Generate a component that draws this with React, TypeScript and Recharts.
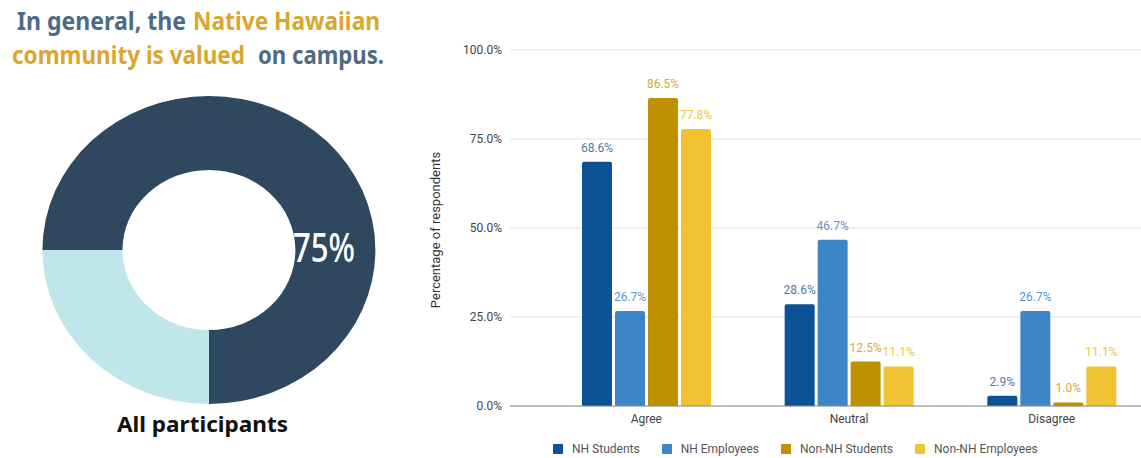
import {
  Bar,
  BarChart,
  CartesianGrid,
  Cell,
  LabelList,
  Legend,
  Pie,
  PieChart,
  XAxis,
  YAxis,
} from "recharts";

const categories = ["Agree", "Neutral", "Disagree"];
const nhStudents = [68.6, 28.6, 2.9];
const nhEmployees = [26.7, 46.7, 26.7];
const nonNhStudents = [86.5, 12.5, 1.0];
const nonNhEmployees = [77.8, 11.1, 11.1];
const yTicks = [0, 25, 50, 75, 100];

const donutNames = ["Valued", "Other"];
const donutValues = [75, 25];
const donutColors = ["#2f475f", "#bfe6ea"];

const series = [
  { key: "nhStudents", name: "NH Students", fill: "#0b5394", label: "#4f79a8" },
  { key: "nhEmployees", name: "NH Employees", fill: "#3d85c6", label: "#5b94cf" },
  { key: "nonNhStudents", name: "Non-NH Students", fill: "#bf9000", label: "#d2aa3c" },
  { key: "nonNhEmployees", name: "Non-NH Employees", fill: "#f1c232", label: "#efc43e" },
];

const barData = categories.map((name, i) => ({
  name,
  nhStudents: nhStudents[i],
  nhEmployees: nhEmployees[i],
  nonNhStudents: nonNhStudents[i],
  nonNhEmployees: nonNhEmployees[i],
}));

const donutData = donutNames.map((name, i) => ({ name, value: donutValues[i] }));

const chartFont = "Roboto, 'Liberation Sans', Arial, sans-serif";
const titleFont = "'Noto Sans', 'Open Sans', sans-serif";
const slate = "#4f6a84";
const gold = "#d9a72d";

// legend keeps the series order (recharts 3 sorts payload by default)
function renderLegend() {
  return (
    <div
      style={{
        display: "flex",
        alignItems: "center",
        height: 22,
        paddingTop: 4,
        boxSizing: "border-box",
        fontFamily: chartFont,
        fontSize: 12,
        color: "#555",
      }}
    >
      {series.map((s) => (
        <span key={s.key} style={{ display: "flex", alignItems: "center", marginRight: 22 }}>
          <span
            style={{
              width: 10,
              height: 10,
              background: s.fill,
              borderRadius: 1,
              marginRight: 9,
              display: "inline-block",
            }}
          />
          {s.name}
        </span>
      ))}
    </div>
  );
}

export default function App() {
  return (
    <div style={{ position: "relative", width: 1141, height: 458, overflow: "hidden", background: "#fff" }}>
      <style>{`body{margin:0}`}</style>

      <div
        style={{
          position: "absolute",
          left: 0,
          top: 0,
          transform: "scaleX(1.081)",
          transformOrigin: "203.5px 245px",
        }}
      >
        <PieChart width={410} height={458}>
          <Pie
            data={donutData}
            dataKey="value"
            cx={203.5}
            cy={245}
            innerRadius={80}
            outerRadius={154}
            startAngle={-90}
            endAngle={270}
            stroke="none"
            isAnimationActive={false}
          >
            {donutData.map((d, i) => (
              <Cell key={d.name} fill={donutColors[i]} />
            ))}
          </Pie>
        </PieChart>
      </div>

      <div style={{ position: "absolute", left: 420, top: 0 }}>
        <BarChart
          width={733}
          height={458}
          data={barData}
          margin={{ top: 50, right: 0, bottom: 0, left: 10 }}
          barCategoryGap={37}
          barGap={3}
        >
          <CartesianGrid vertical={false} stroke="#e3e3e3" />
          <XAxis
            dataKey="name"
            height={30}
            padding={{ left: 35, right: 0 }}
            tickLine={false}
            axisLine={{ stroke: "#8a8a8a" }}
            tick={{ fill: "#444", fontSize: 12, fontFamily: chartFont }}
          />
          <YAxis
            width={80}
            domain={[0, 100]}
            ticks={yTicks}
            tickFormatter={(v: number) => `${v.toFixed(1)}%`}
            axisLine={false}
            tickLine={false}
            tick={{ fill: "#444", fontSize: 12, fontFamily: chartFont }}
          />
          <Legend
            verticalAlign="bottom"
            content={renderLegend}
            wrapperStyle={{ left: 133, width: 600 }}
          />
          {series.map((s) => (
            <Bar
              key={s.key}
              dataKey={s.key}
              name={s.name}
              fill={s.fill}
              radius={[2, 2, 0, 0]}
              isAnimationActive={false}
            >
              <LabelList
                dataKey={s.key}
                position="top"
                offset={10}
                formatter={(v: any) => `${Number(v).toFixed(1)}%`}
                style={{ fill: s.label, fontSize: 12, fontFamily: chartFont }}
              />
            </Bar>
          ))}
        </BarChart>
      </div>

      <svg
        width={1141}
        height={458}
        style={{ position: "absolute", left: 0, top: 0, pointerEvents: "none" }}
      >
        <g fontFamily={titleFont} fontWeight={700} fontSize={25}>
          <text x={17} y={30} textLength={169} lengthAdjust="spacingAndGlyphs" fill={slate}>
            In general, the
          </text>
          <text x={193} y={30} textLength={187} lengthAdjust="spacingAndGlyphs" fill={gold}>
            Native Hawaiian
          </text>
          <text x={12} y={64} textLength={233} lengthAdjust="spacingAndGlyphs" fill={gold}>
            community is valued
          </text>
          <text x={258} y={64} textLength={126} lengthAdjust="spacingAndGlyphs" fill={slate}>
            on campus.
          </text>
        </g>
        <text
          x={293}
          y={262}
          textLength={62}
          lengthAdjust="spacingAndGlyphs"
          fontFamily={titleFont}
          fontWeight={500}
          fontSize={40}
          fill="#ffffff"
        >
          75%
        </text>
        <text
          x={117}
          y={432}
          textLength={171}
          lengthAdjust="spacingAndGlyphs"
          fontFamily={titleFont}
          fontWeight={700}
          fontSize={21}
          fill="#111"
        >
          All participants
        </text>
        <text
          x={440}
          y={230}
          transform="rotate(-90 440 230)"
          textAnchor="middle"
          fontFamily={chartFont}
          fontSize={13}
          fill="#333"
        >
          Percentage of respondents
        </text>
      </svg>
    </div>
  );
}
